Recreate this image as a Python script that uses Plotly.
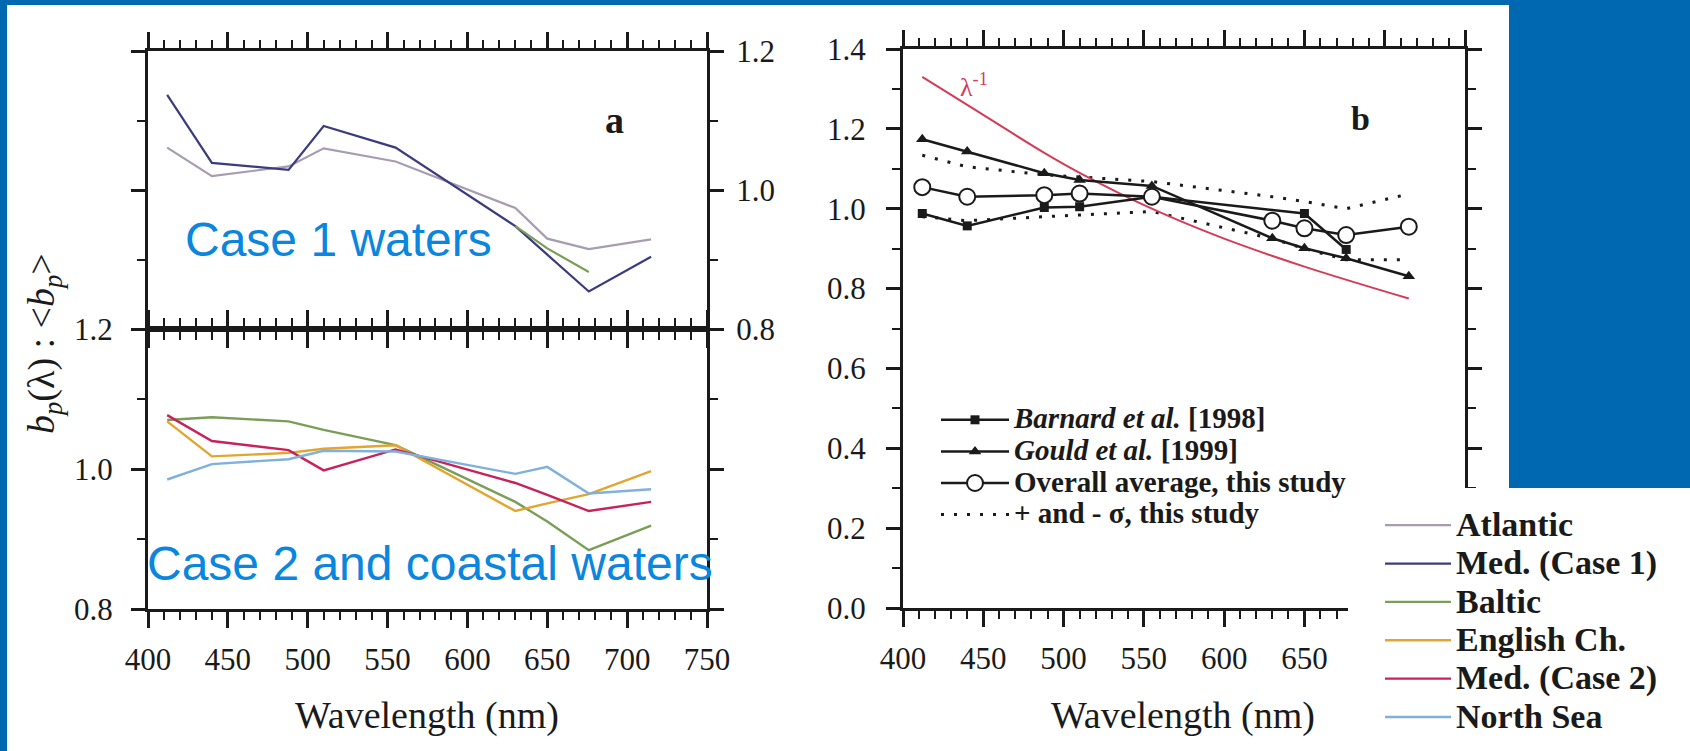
import plotly.graph_objects as go

W, H = 1690, 751
SERIF = "Liberation Serif"
SANS = "Liberation Sans"
INK = "#1a1a1a"
BLUE_BG = "#0067b1"

# ---------------- data ----------------
wavelengths = [412, 440, 488, 510, 555, 630, 650, 676, 715]

# panel a, Case 1 waters
atlantic = [1.061, 1.020, 1.034, 1.060, 1.041, 0.974, 0.930, 0.915, 0.929]
med_case1 = [1.137, 1.039, 1.029, 1.092, 1.061, 0.948, 0.907, 0.854, 0.904]
baltic_case1_wl = [630, 650, 676]
baltic_case1 = [0.948, 0.916, 0.882]

# panel a, Case 2 and coastal waters
baltic = [1.070, 1.074, 1.068, 1.056, 1.034, 0.953, 0.925, 0.884, 0.919]
english_ch = [1.068, 1.018, 1.023, 1.029, 1.034, 0.940, 0.951, 0.964, 0.997]
med_case2 = [1.077, 1.040, 1.027, 0.998, 1.028, 0.980, 0.963, 0.940, 0.953]
north_sea = [0.985, 1.007, 1.014, 1.026, 1.025, 0.993, 1.003, 0.965, 0.971]

# panel b
barnard_wl = [412, 440, 488, 510, 555, 650, 676]
barnard = [0.988, 0.957, 1.003, 1.005, 1.030, 0.988, 0.898]
gould = [1.174, 1.143, 1.089, 1.072, 1.057, 0.926, 0.901, 0.876, 0.831]
overall = [1.054, 1.030, 1.034, 1.038, 1.030, 0.970, 0.951, 0.934, 0.955]
sigma_plus = [1.134, 1.105, 1.085, 1.080, 1.068, 1.030, 1.018, 1.000, 1.037]
sigma_minus = [0.980, 0.970, 0.980, 0.984, 0.993, 0.925, 0.900, 0.872, 0.872]
lam_wl = [412, 440, 488, 510, 555, 600, 650, 715]
lam_inv = [1.33, 1.26, 1.14, 1.09, 1.00, 0.925, 0.855, 0.775]

x_ticks = [400, 450, 500, 550, 600, 650, 700, 750]
x_ticktext_a = ["400", "450", "500", "550", "600", "650", "700", "750"]
x_ticktext_b = ["400", "450", "500", "550", "600", "650", "", ""]  # 700/750 hidden under the legend inset

water_names = ["Atlantic", "Med. (Case 1)", "Baltic", "English Ch.", "Med. (Case 2)", "North Sea"]
water_colors = ["#a79cb0", "#3b3b80", "#7a9e58", "#e2a52e", "#c8215c", "#80b0dc"]
ref_names = ["<i>Barnard et al.</i> [1998]", "<i>Gould et al.</i> [1999]",
             "Overall average, this study", "+ and - σ, this study"]


# ---------------- helpers ----------------
def px_x(p):
    return p / W


def px_y(p):
    return 1 - p / H


def legend_label(text, size):
    return f"<span style='font-size:{size}px'><b>{text}</b></span>"


fig = go.Figure()

# panel a upper (Case 1)
for name, vals, col in [(water_names[0], atlantic, water_colors[0]),
                        (water_names[1], med_case1, water_colors[1])]:
    fig.add_trace(go.Scatter(x=wavelengths, y=vals, mode="lines", xaxis="x", yaxis="y",
                             line=dict(color=col, width=2.2),
                             name=legend_label(name, 34), legend="legend2",
                             legendrank=water_names.index(name)))
fig.add_trace(go.Scatter(x=baltic_case1_wl, y=baltic_case1, mode="lines", xaxis="x", yaxis="y",
                         line=dict(color=water_colors[2], width=2.2), showlegend=False, legend="legend2"))

# panel a lower (Case 2)
for name, vals, col in [(water_names[2], baltic, water_colors[2]),
                        (water_names[3], english_ch, water_colors[3]),
                        (water_names[4], med_case2, water_colors[4]),
                        (water_names[5], north_sea, water_colors[5])]:
    fig.add_trace(go.Scatter(x=wavelengths, y=vals, mode="lines", xaxis="x2", yaxis="y2",
                             line=dict(color=col, width=2.4),
                             name=legend_label(name, 34), legend="legend2",
                             legendrank=water_names.index(name)))

# panel b
fig.add_trace(go.Scatter(x=wavelengths, y=sigma_plus, mode="lines", xaxis="x3", yaxis="y3",
                         line=dict(color=INK, width=3, dash="3px,10px"),
                         name=legend_label(ref_names[3], 29), legendgroup="sigma", legendrank=4))
fig.add_trace(go.Scatter(x=wavelengths, y=sigma_minus, mode="lines", xaxis="x3", yaxis="y3",
                         line=dict(color=INK, width=3, dash="3px,10px"),
                         legendgroup="sigma", showlegend=False))
fig.add_trace(go.Scatter(x=lam_wl, y=lam_inv, mode="lines", xaxis="x3", yaxis="y3",
                         line=dict(color="#d43c58", width=2, shape="spline"), showlegend=False))
fig.add_trace(go.Scatter(x=barnard_wl, y=barnard, mode="lines+markers", xaxis="x3", yaxis="y3",
                         line=dict(color=INK, width=2.5),
                         marker=dict(symbol="square", size=9, color=INK),
                         name=legend_label(ref_names[0], 29), legendrank=1))
fig.add_trace(go.Scatter(x=wavelengths, y=gould, mode="lines+markers", xaxis="x3", yaxis="y3",
                         line=dict(color=INK, width=2.5),
                         marker=dict(symbol="triangle-up", size=11, color=INK),
                         name=legend_label(ref_names[1], 29), legendrank=2))
fig.add_trace(go.Scatter(x=wavelengths, y=overall, mode="lines+markers", xaxis="x3", yaxis="y3",
                         line=dict(color=INK, width=2.5),
                         marker=dict(symbol="circle", size=16, color="white", line=dict(color=INK, width=2)),
                         name=legend_label(ref_names[2], 29), legendrank=3))

# ---------------- axes ----------------
tickfont = dict(family=SERIF, size=31, color=INK)


def xaxis(domain, anchor, labels, ticktext):
    return dict(domain=domain, anchor=anchor, range=[400, 750],
                tickmode="array", tickvals=x_ticks, ticktext=ticktext,
                showline=True, linecolor=INK, linewidth=3, mirror="ticks",
                ticks="outside", ticklen=16, tickwidth=2.5, tickcolor=INK,
                minor=dict(ticks="outside", tickmode="linear", tick0=400, dtick=10,
                           ticklen=8, tickwidth=2, tickcolor=INK),
                showgrid=False, zeroline=False, showticklabels=labels, automargin=False,
                tickfont=tickfont, ticklabelstandoff=5, fixedrange=True)


def yaxis(domain, anchor, rng, side, standoff):
    return dict(domain=domain, anchor=anchor, range=rng, tick0=0, dtick=0.2, tickformat=".1f",
                side=side, showline=True, linecolor=INK, linewidth=3, mirror="ticks",
                ticks="outside", ticklen=14, tickwidth=2.5, tickcolor=INK,
                minor=dict(ticks="outside", dtick=0.1, ticklen=8, tickwidth=2, tickcolor=INK),
                showgrid=False, zeroline=False, tickfont=tickfont, ticklabelstandoff=standoff,
                automargin=False, fixedrange=True)


xa_dom = [px_x(148), px_x(707)]
xb_dom = [px_x(903), px_x(1465)]

fig.update_layout(
    width=W, height=H, margin=dict(l=0, r=0, t=0, b=0, autoexpand=False),
    paper_bgcolor=BLUE_BG, plot_bgcolor="white",
    xaxis=xaxis(xa_dom, "y", False, x_ticktext_a),
    yaxis=yaxis([px_y(329), px_y(51)], "x", [0.8, 1.2], "right", 6),
    xaxis2=xaxis(xa_dom, "y2", True, x_ticktext_a),
    yaxis2=yaxis([px_y(609), px_y(329)], "x2", [0.8, 1.2], "left", 12),
    xaxis3=xaxis(xb_dom, "y3", True, x_ticktext_b),
    yaxis3=yaxis([px_y(608), px_y(49)], "x3", [0, 1.4], "left", 14),
    legend=dict(x=px_x(936), y=px_y(399), xanchor="left", yanchor="top",
                bgcolor="rgba(0,0,0,0)", borderwidth=0, itemwidth=68, tracegroupgap=0,
                font=dict(family=SERIF, size=22, color=INK)),
    legend2=dict(x=px_x(1380), y=px_y(501), xanchor="left", yanchor="top",
                 bgcolor="rgba(0,0,0,0)", borderwidth=0, itemwidth=66, tracegroupgap=0,
                 font=dict(family=SERIF, size=27.2, color=INK)),
    shapes=[
        dict(type="rect", xref="paper", yref="paper", x0=px_x(7), x1=px_x(1509),
             y0=0, y1=px_y(5), fillcolor="white", line=dict(width=0), layer="below"),
        dict(type="rect", xref="paper", yref="paper", x0=px_x(1348), x1=1,
             y0=0, y1=px_y(488), fillcolor="white", line=dict(width=0), layer="above"),
    ],
    annotations=[
        dict(text="Case 1 waters", x=px_x(183), y=px_y(239), xref="paper", yref="paper",
             xanchor="left", yanchor="middle", showarrow=False,
             font=dict(family=SANS, size=48, color="#0b86de")),
        dict(text="Case 2 and coastal waters", x=px_x(145), y=px_y(563), xref="paper", yref="paper",
             xanchor="left", yanchor="middle", showarrow=False,
             font=dict(family=SANS, size=48, color="#0b86de")),
        dict(text="<b>a</b>", x=px_x(614), y=px_y(120), xref="paper", yref="paper",
             xanchor="center", yanchor="middle", showarrow=False,
             font=dict(family=SERIF, size=38, color=INK)),
        dict(text="<b>b</b>", x=px_x(1360), y=px_y(118), xref="paper", yref="paper",
             xanchor="center", yanchor="middle", showarrow=False,
             font=dict(family=SERIF, size=34, color=INK)),
        dict(text="λ<sup>-1</sup>", x=px_x(958), y=px_y(86), xref="paper", yref="paper",
             xanchor="left", yanchor="middle", showarrow=False,
             font=dict(family=SERIF, size=26, color="#d43c58")),
        dict(text="<i>b</i><sub><i>p</i></sub>(λ) : &lt;<i>b</i><sub><i>p</i></sub>&gt;",
             x=px_x(44), y=px_y(344), xref="paper", yref="paper", textangle=-90,
             xanchor="center", yanchor="middle", showarrow=False,
             font=dict(family=SERIF, size=38, color=INK)),
        dict(text="Wavelength (nm)", x=px_x(427), y=px_y(715), xref="paper", yref="paper",
             xanchor="center", yanchor="middle", showarrow=False,
             font=dict(family=SERIF, size=38, color=INK)),
        dict(text="Wavelength (nm)", x=px_x(1183), y=px_y(715), xref="paper", yref="paper",
             xanchor="center", yanchor="middle", showarrow=False,
             font=dict(family=SERIF, size=38, color=INK)),
    ],
)

fig.write_html("out.html", config={"displayModeBar": False},
               post_script="document.body.style.margin = '0px';")
